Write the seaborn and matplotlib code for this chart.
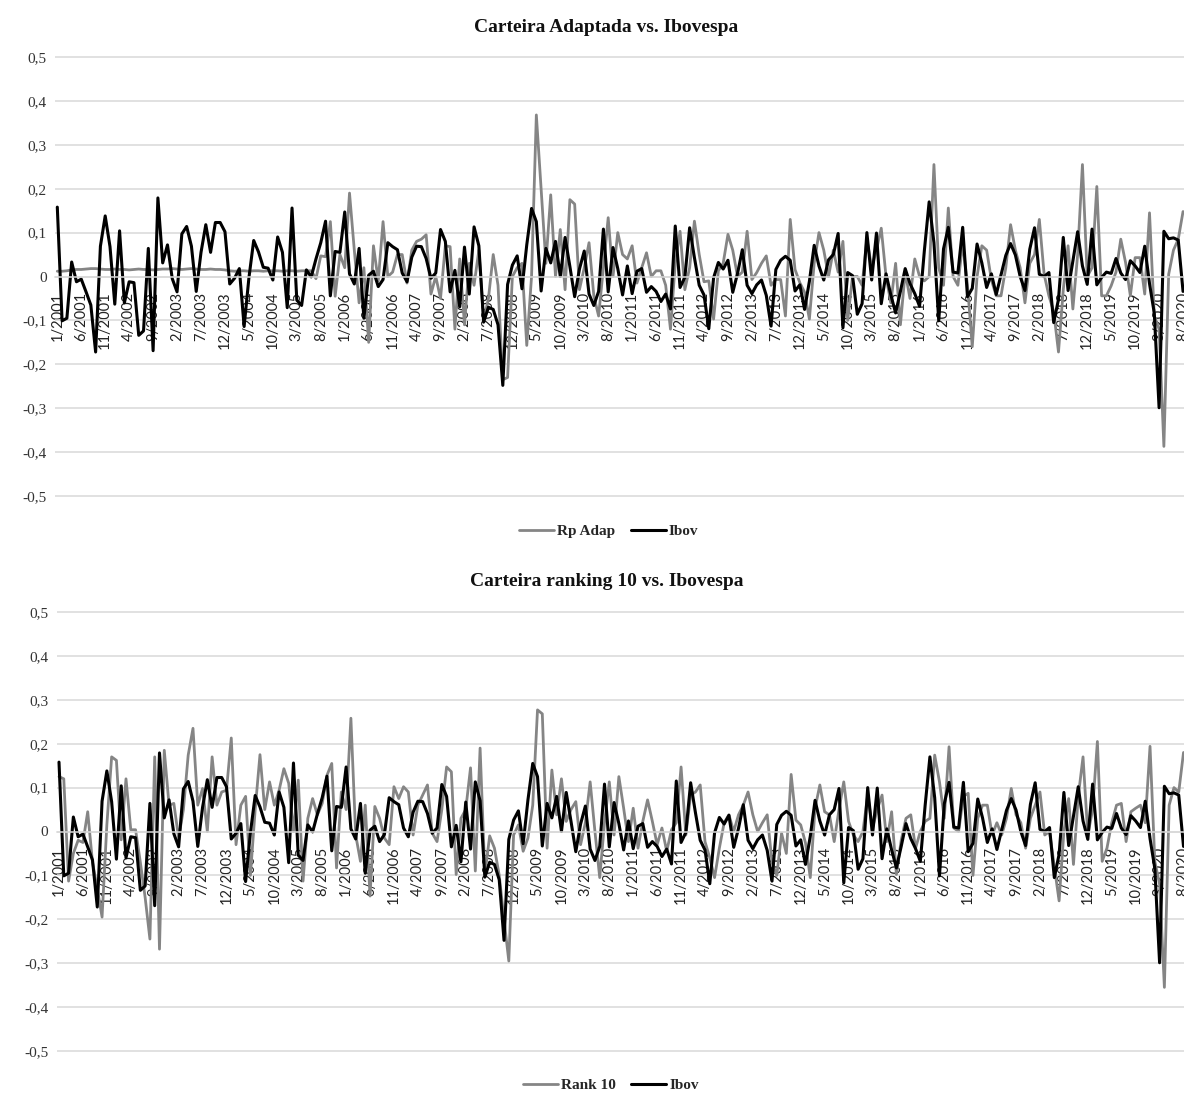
import numpy as np
import pandas as pd
import matplotlib
matplotlib.use("Agg")
import matplotlib.pyplot as plt
import seaborn as sns

# ---------------- data (monthly returns, 1/2001 .. 8/2020) ----------------
ibov = [
    0.158, -0.101, -0.095, 0.033, -0.012, -0.006, -0.035, -0.065, -0.172, 0.069, 0.138, 0.068,
    -0.063, 0.104, -0.060, -0.012, -0.014, -0.134, -0.124, 0.064, -0.169, 0.179, 0.031, 0.072,
    -0.005, -0.035, 0.097, 0.114, 0.069, -0.034, 0.055, 0.118, 0.055, 0.123, 0.123, 0.102,
    -0.017, -0.004, 0.018, -0.114, -0.003, 0.082, 0.056, 0.021, 0.019, -0.008, 0.090, 0.055,
    -0.071, 0.156, -0.054, -0.066, 0.015, -0.001, 0.040, 0.077, 0.126, -0.044, 0.057, 0.055,
    0.147, 0.006, -0.017, 0.064, -0.095, 0.003, 0.012, -0.023, -0.007, 0.077, 0.068, 0.061,
    0.008, -0.012, 0.044, 0.069, 0.068, 0.041, -0.004, 0.008, 0.107, 0.080, -0.035, 0.014,
    -0.069, 0.067, -0.040, 0.113, 0.070, -0.104, -0.070, -0.075, -0.110, -0.248, -0.018, 0.026,
    0.047, -0.028, 0.072, 0.155, 0.125, -0.033, 0.064, 0.031, 0.080, 0.000, 0.089, 0.023,
    -0.046, 0.017, 0.058, -0.040, -0.066, -0.034, 0.108, -0.035, 0.066, 0.018, -0.042, 0.024,
    -0.039, 0.012, 0.018, -0.036, -0.023, -0.034, -0.057, -0.040, -0.074, 0.115, -0.025, -0.002,
    0.111, 0.043, -0.020, -0.042, -0.119, -0.003, 0.032, 0.017, 0.037, -0.036, 0.007, 0.061,
    -0.020, -0.039, -0.019, -0.008, -0.043, -0.113, 0.016, 0.037, 0.046, 0.037, -0.033, -0.019,
    -0.075, -0.011, 0.071, 0.024, -0.008, 0.038, 0.050, 0.098, -0.117, 0.009, 0.002, -0.086,
    -0.062, 0.100, -0.008, 0.099, -0.062, 0.006, -0.042, -0.083, -0.034, 0.018, -0.016, -0.039,
    -0.068, 0.059, 0.170, 0.077, -0.101, 0.063, 0.112, 0.010, 0.008, 0.112, -0.046, -0.027,
    0.074, 0.031, -0.025, 0.006, -0.041, 0.003, 0.048, 0.075, 0.049, 0.000, -0.032, 0.062,
    0.111, 0.005, 0.000, 0.009, -0.105, -0.052, 0.089, -0.032, 0.035, 0.102, 0.024, -0.018,
    0.108, -0.019, -0.002, 0.010, 0.007, 0.041, 0.008, -0.007, 0.036, 0.024, 0.009, 0.069,
    -0.016, -0.084, -0.299, 0.103, 0.086, 0.088, 0.083, -0.034,
]

rp_adap = [
    0.012, 0.012, 0.013, 0.015, 0.016, 0.016, 0.017, 0.018, 0.018, 0.017, 0.016, 0.016,
    0.017, 0.016, 0.016, 0.015, 0.016, 0.017, 0.016, 0.016, 0.015, 0.016, 0.017, 0.017,
    0.018, 0.017, 0.016, 0.017, 0.018, 0.017, 0.016, 0.016, 0.017, 0.016, 0.016, 0.015,
    0.013, 0.012, 0.013, 0.013, 0.012, 0.013, 0.013, 0.012, 0.013, 0.013, 0.013, 0.012,
    0.013, 0.013, 0.012, 0.013, 0.013, 0.013, -0.005, 0.047, 0.045, 0.125, -0.045, 0.050,
    0.020, 0.190, 0.060, -0.060, 0.020, -0.150, 0.070, -0.010, 0.125, 0.000, 0.010, 0.050,
    0.050, -0.015, 0.060, 0.080, 0.085, 0.095, -0.040, 0.000, -0.050, 0.070, 0.068, -0.120,
    0.040, -0.110, 0.030, -0.020, 0.060, -0.100, -0.050, 0.050, -0.020, -0.235, -0.230, 0.000,
    0.020, 0.030, -0.157, 0.000, 0.368, 0.200, 0.030, 0.186, 0.000, 0.107, -0.030, 0.175,
    0.165, -0.030, 0.020, 0.077, -0.044, -0.090, 0.020, 0.134, 0.000, 0.100, 0.050, 0.040,
    0.070, -0.015, 0.020, 0.054, 0.000, 0.013, 0.013, -0.020, -0.120, 0.030, 0.103, -0.030,
    0.020, 0.126, 0.050, -0.012, -0.010, -0.097, 0.013, 0.030, 0.096, 0.060, 0.000, 0.010,
    0.103, -0.007, 0.009, 0.030, 0.047, -0.020, -0.007, -0.007, -0.090, 0.130, 0.016, -0.014,
    -0.036, -0.097, 0.030, 0.100, 0.060, 0.000, 0.060, 0.010, 0.080, -0.100, 0.000, 0.000,
    -0.020, 0.085, 0.020, 0.060, 0.110, 0.000, -0.060, 0.030, -0.110, 0.010, -0.050, 0.040,
    0.000, -0.010, 0.000, 0.255, 0.020, -0.020, 0.156, 0.000, -0.020, 0.077, -0.020, -0.160,
    0.000, 0.070, 0.060, -0.008, -0.044, -0.044, 0.020, 0.118, 0.060, 0.020, -0.060, 0.030,
    0.050, 0.130, 0.005, -0.044, -0.080, -0.172, -0.030, 0.070, -0.074, 0.050, 0.255, 0.000,
    0.020, 0.205, -0.044, -0.044, -0.021, 0.010, 0.085, 0.032, -0.044, 0.043, 0.043, -0.040,
    0.145, -0.090, -0.120, -0.387, 0.005, 0.060, 0.085, 0.148,
]

rank10 = [
    0.125, 0.120, -0.113, -0.050, -0.020, -0.025, 0.045, -0.070, -0.130, -0.195, 0.015, 0.170,
    0.162, -0.019, 0.120, 0.004, 0.004, -0.070, -0.150, -0.245, 0.170, -0.268, 0.185, 0.060,
    0.064, -0.015, 0.050, 0.174, 0.235, 0.060, 0.098, 0.000, 0.170, 0.060, 0.090, 0.094,
    0.213, -0.030, 0.060, 0.080, -0.100, 0.050, 0.175, 0.050, 0.113, 0.060, 0.094, 0.143,
    0.110, 0.000, 0.117, -0.113, 0.030, 0.075, 0.038, 0.064, 0.128, 0.155, -0.083, 0.090,
    0.050, 0.258, -0.008, -0.068, 0.060, -0.147, 0.057, 0.030, -0.015, -0.030, 0.102, 0.075,
    0.102, 0.090, -0.008, 0.060, 0.083, 0.106, -0.004, -0.023, 0.050, 0.147, 0.136, -0.098,
    0.030, 0.050, 0.145, -0.090, 0.190, -0.098, -0.010, -0.038, -0.100, -0.200, -0.295, -0.008,
    0.015, -0.045, -0.015, 0.060, 0.277, 0.268, -0.038, 0.140, 0.038, 0.120, 0.023, 0.050,
    0.068, -0.030, 0.020, 0.113, 0.000, -0.105, 0.020, 0.113, -0.008, 0.125, 0.053, -0.023,
    0.053, -0.038, 0.023, 0.072, 0.023, -0.030, 0.008, -0.045, 0.004, 0.020, 0.147, -0.008,
    0.083, 0.090, 0.106, -0.023, -0.060, -0.105, -0.038, 0.020, 0.038, 0.000, 0.038, 0.060,
    0.090, 0.038, 0.000, 0.020, 0.038, -0.070, -0.100, -0.004, -0.050, 0.130, 0.026, 0.015,
    -0.026, -0.105, 0.053, 0.106, 0.045, 0.038, -0.023, 0.050, 0.113, 0.023, -0.008, -0.023,
    0.000, 0.083, 0.008, 0.050, 0.083, -0.023, 0.045, -0.098, -0.020, 0.030, 0.038, -0.038,
    0.000, 0.023, 0.030, 0.174, 0.113, 0.030, 0.193, 0.008, 0.000, 0.080, 0.087, -0.100,
    0.030, 0.060, 0.060, -0.008, 0.020, -0.008, 0.030, 0.098, 0.038, 0.020, -0.038, 0.030,
    0.060, 0.090, -0.008, 0.000, -0.080, -0.158, 0.000, 0.075, -0.075, 0.080, 0.170, -0.008,
    0.050, 0.205, -0.068, -0.038, 0.020, 0.060, 0.064, -0.023, 0.045, 0.053, 0.060, 0.020,
    0.194, -0.068, -0.120, -0.355, 0.060, 0.100, 0.090, 0.180,
]

x_tick_labels = [
    "1/2001", "6/2001", "11/2001", "4/2002", "9/2002", "2/2003", "7/2003", "12/2003",
    "5/2004", "10/2004", "3/2005", "8/2005", "1/2006", "6/2006", "11/2006", "4/2007",
    "9/2007", "2/2008", "7/2008", "12/2008", "5/2009", "10/2009", "3/2010", "8/2010",
    "1/2011", "6/2011", "11/2011", "4/2012", "9/2012", "2/2013", "7/2013", "12/2013",
    "5/2014", "10/2014", "3/2015", "8/2015", "1/2016", "6/2016", "11/2016", "4/2017",
    "9/2017", "2/2018", "7/2018", "12/2018", "5/2019", "10/2019", "3/2020", "8/2020",
]
y_ticks = [0.5, 0.4, 0.3, 0.2, 0.1, 0.0, -0.1, -0.2, -0.3, -0.4, -0.5]
y_tick_labels = ["0,5", "0,4", "0,3", "0,2", "0,1", "0", "-0,1", "-0,2", "-0,3", "-0,4", "-0,5"]

titles = ["Carteira Adaptada vs. Ibovespa", "Carteira ranking 10 vs. Ibovespa"]
series_names = [("Rp Adap", "Ibov"), ("Rank 10", "Ibov")]

# ---------------- figure ----------------
sns.set_theme(style="white")
plt.rcParams["font.family"] = ["Liberation Serif", "DejaVu Serif"]

W, H = 1184, 1095
fig = plt.figure(figsize=(W / 100, H / 100), dpi=100)

n = len(ibov)
t = np.arange(n)
df = pd.DataFrame({"t": t, "ibov": ibov, "rp_adap": rp_adap, "rank10": rank10})

GRAY = "#858585"
GRID = "#d9d9d9"

ext = 0.505


def make_axes(x0_px, y_top_px, y_bot_px):
    h = (y_bot_px - y_top_px) * (2 * ext)
    ymid = (y_top_px + y_bot_px) / 2
    bottom = 1 - (ymid + h / 2) / H
    return fig.add_axes([x0_px / W, bottom, 1 - x0_px / W, h / H])


ax1 = make_axes(55, 57, 496)
ax2 = make_axes(56.7, 612, 1051)

panels = [
    (ax1, "rp_adap", (-0.48, 235.2), 606, 27, (0.514, 1 - 531 / H)),
    (ax2, "rank10", (-0.48, 235.1), 607, 581, (0.516, 1 - 1085 / H)),
]

for k, (ax, col, xlim, tx, ty, legpos) in enumerate(panels):
    # spine position first (it resets the tick objects)
    for s in ["top", "right", "left"]:
        ax.spines[s].set_visible(False)
    ax.spines["bottom"].set_position(("data", 0))
    ax.spines["bottom"].set_color(GRID)
    ax.spines["bottom"].set_linewidth(1.1)

    sns.lineplot(data=df, x="t", y=col, ax=ax, color=GRAY, linewidth=2.0,
                 label=series_names[k][0], legend=False)
    sns.lineplot(data=df, x="t", y="ibov", ax=ax, color="black", linewidth=2.2,
                 label=series_names[k][1], legend=False)
    ax.set_xlim(*xlim)
    ax.set_ylim(-ext, ext)
    ax.set_yticks(y_ticks)
    ax.set_yticklabels(y_tick_labels, fontsize=11, color="#333333")
    ax.set_xticks(t[::5])
    ax.set_xticklabels(x_tick_labels)
    ax.tick_params(axis="both", length=0)
    ax.tick_params(axis="x", pad=11, labelrotation=90, labelsize=10.5, labelcolor="#222222")
    ax.tick_params(axis="y", pad=6)
    for lab in ax.get_xticklabels():
        lab.set_family(["Lato", "DejaVu Sans"])
        lab.set_rotation(90)
        lab.set_va("top")
        lab.set_ha("center")
    ax.grid(axis="y", color=GRID, linewidth=1.1)
    ax.grid(axis="x", visible=False)
    ax.set_xlabel("")
    ax.set_ylabel("")
    ax.set_axisbelow(True)
    ax.patch.set_alpha(0)

    fig.text(tx / W, 1 - ty / H, titles[k], ha="center", va="center",
             fontsize=14, weight="bold", color="#111111")
    handles, labels = ax.get_legend_handles_labels()
    fig.legend(handles, labels, loc="center", bbox_to_anchor=legpos,
               bbox_transform=fig.transFigure, ncol=2, frameon=False,
               prop={"family": "Liberation Serif", "weight": "bold", "size": 11},
               handlelength=2.3, columnspacing=1.0, handletextpad=0.2)

fig.savefig("out.png", dpi=100)
